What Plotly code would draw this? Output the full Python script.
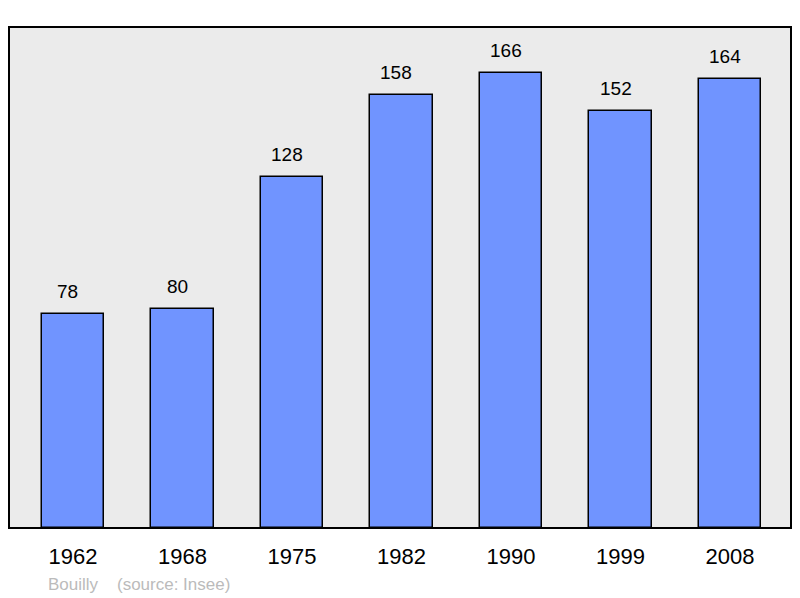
import plotly.graph_objects as go

years = ["1962", "1968", "1975", "1982", "1990", "1999", "2008"]
population = [78, 80, 128, 158, 166, 152, 164]
source_text = "Bouilly    (source: Insee)"

fig = go.Figure()
fig.add_trace(go.Bar(
    x=years, y=population, width=0.57,
    marker=dict(color="#7094FF", line=dict(color="#000000", width=1.5)),
    hoverinfo="skip",
))

for i, v in enumerate(population):
    fig.add_annotation(x=i, y=v, xref="x", yref="y", text=str(v), showarrow=False,
                       yanchor="bottom", yshift=10, xshift=-5,
                       font=dict(family="Liberation Sans", size=19, color="#000000"))

fig.add_annotation(x=0.047, y=-0.112, xref="paper", yref="paper",
                   text=source_text, showarrow=False, xanchor="left", yanchor="middle",
                   font=dict(family="Liberation Sans", size=17, color="#BBBBBB"))

fig.add_shape(type="rect", xref="paper", yref="paper", x0=0, x1=1, y0=0, y1=1,
              line=dict(color="#000000", width=2), layer="above")

# page body has an 8px margin, so the figure starts at (8, 8)
fig.update_layout(
    width=792, height=590,
    margin=dict(l=1, r=9, t=19, b=70),
    paper_bgcolor="#FFFFFF", plot_bgcolor="#EBEBEB",
    showlegend=False,
    bargap=0,
    xaxis=dict(type="category", range=[-0.584, 6.557], showgrid=False, zeroline=False,
               ticks="", ticklabelstandoff=13, showline=False,
               tickfont=dict(family="Liberation Sans", size=22, color="#000000")),
    yaxis=dict(range=[0, 182.8], visible=False, showgrid=False, zeroline=False),
)

fig.write_html("out.html")
